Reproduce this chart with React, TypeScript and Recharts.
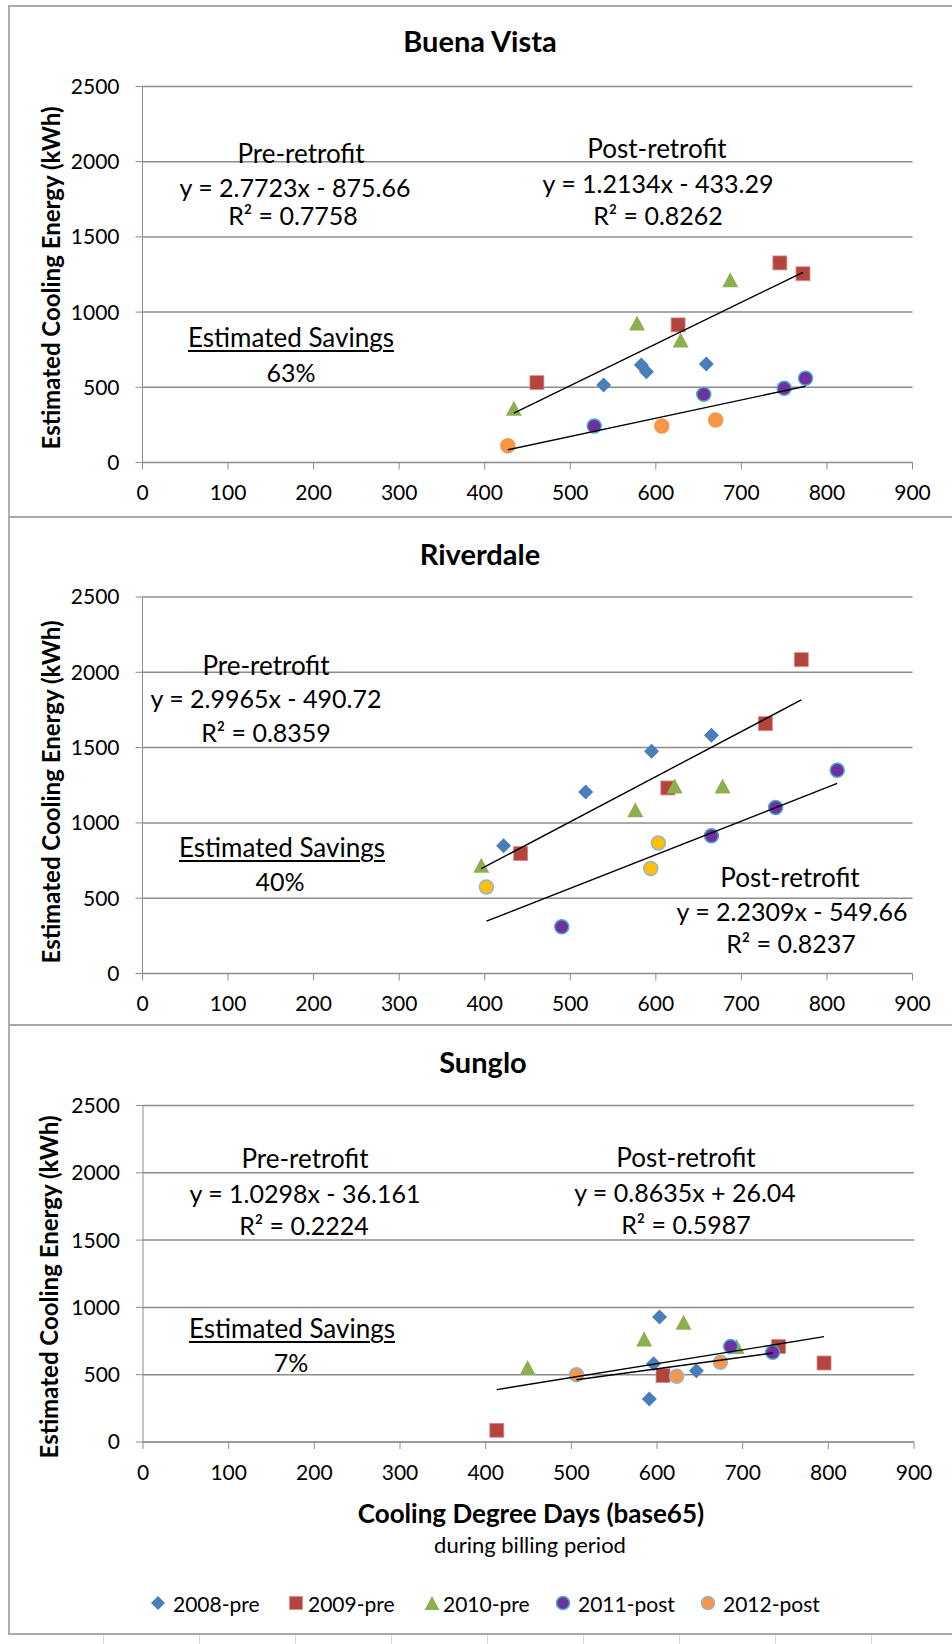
import React from "react";
import { CartesianGrid, Scatter, ScatterChart, XAxis, YAxis } from "recharts";

type Pt = { x: number; y: number };

const FONT = "Lato, 'Open Sans', sans-serif";
const X_TICKS = [0, 100, 200, 300, 400, 500, 600, 700, 800, 900];
const Y_TICKS = [0, 500, 1000, 1500, 2000, 2500];
const SERIES_NAMES = ["2008-pre", "2009-pre", "2010-pre", "2011-post", "2012-post"];

// Buena Vista (x = cooling degree days, y = kWh)
const bv2008: Pt[] = [{ x: 539, y: 515 }, { x: 583, y: 649 }, { x: 589, y: 604 }, { x: 659, y: 655 }];
const bv2009: Pt[] = [{ x: 461, y: 531 }, { x: 626, y: 915 }, { x: 745, y: 1327 }, { x: 772, y: 1255 }];
const bv2010: Pt[] = [{ x: 434, y: 360 }, { x: 578, y: 927 }, { x: 629, y: 815 }, { x: 687, y: 1215 }];
const bv2011: Pt[] = [{ x: 528, y: 242 }, { x: 656, y: 453 }, { x: 750, y: 493 }, { x: 775, y: 560 }];
const bv2012: Pt[] = [{ x: 427, y: 111 }, { x: 607, y: 242 }, { x: 670, y: 282 }];
const bvPreFit = [2.7723, -875.66, 0.7758];
const bvPostFit = [1.2134, -433.29, 0.8262];

// Riverdale
const rd2008: Pt[] = [{ x: 422, y: 849 }, { x: 518, y: 1206 }, { x: 595, y: 1475 }, { x: 665, y: 1582 }];
const rd2009: Pt[] = [{ x: 442, y: 796 }, { x: 614, y: 1232 }, { x: 728, y: 1659 }, { x: 770, y: 2084 }];
const rd2010: Pt[] = [{ x: 396, y: 719 }, { x: 576, y: 1088 }, { x: 622, y: 1245 }, { x: 678, y: 1245 }];
const rd2011: Pt[] = [{ x: 490, y: 310 }, { x: 665, y: 914 }, { x: 740, y: 1102 }, { x: 812, y: 1349 }];
const rd2012: Pt[] = [{ x: 402, y: 575 }, { x: 594, y: 697 }, { x: 603, y: 867 }];
const rdPreFit = [2.9965, -490.72, 0.8359];
const rdPostFit = [2.2309, -549.66, 0.8237];

// Sunglo
const sg2008: Pt[] = [{ x: 603, y: 928 }, { x: 591, y: 319 }, { x: 596, y: 582 }, { x: 646, y: 530 }];
const sg2009: Pt[] = [{ x: 413, y: 87 }, { x: 607, y: 493 }, { x: 742, y: 710 }, { x: 795, y: 587 }];
const sg2010: Pt[] = [{ x: 449, y: 554 }, { x: 585, y: 765 }, { x: 631, y: 889 }, { x: 693, y: 710 }];
const sg2011: Pt[] = [{ x: 686, y: 710 }, { x: 735, y: 666 }];
const sg2012: Pt[] = [{ x: 506, y: 500 }, { x: 623, y: 488 }, { x: 674, y: 592 }];
const sgPreFit = [1.0298, -36.161, 0.2224];
const sgPostFit = [0.8635, 26.04, 0.5987];

const SAVINGS = ["63%", "40%", "7%"];

const BLUE = "#4A7EBB";
const RED = "#B5443F";
const GREEN = "#8DB04F";
const PURPLE = "#7030A0";
const TEAL = "#4BACC6";
const ORANGE = "#F79646";
const GOLD = "#FFC000";
const GRID = "#8c8c8c";

const diamond = (fill: string, r = 7.5) => (p: any) => (
  <polygon
    points={`${p.cx},${p.cy - r} ${p.cx + r},${p.cy} ${p.cx},${p.cy + r} ${p.cx - r},${p.cy}`}
    fill={fill}
  />
);
const square = (fill: string, s = 14) => (p: any) => (
  <rect x={p.cx - s / 2} y={p.cy - s / 2} width={s} height={s} fill={fill} stroke="#d98f8c" strokeWidth={0.8} />
);
const triangle = (fill: string, w = 16, h = 15) => (p: any) => (
  <polygon
    points={`${p.cx},${p.cy - h / 2} ${p.cx + w / 2},${p.cy + h / 2} ${p.cx - w / 2},${p.cy + h / 2}`}
    fill={fill}
  />
);
const dot = (fill: string, stroke: string, r = 7) => (p: any) => (
  <circle cx={p.cx} cy={p.cy} r={r} fill={fill} stroke={stroke} strokeWidth={1.5} />
);
const noMark = () => <g />;

function fitLine(fit: number[], groups: Pt[][]): Pt[] {
  const xs = groups.flat().map((d) => d.x);
  const lo = Math.min(...xs);
  const hi = Math.max(...xs);
  return [
    { x: lo, y: fit[0] * lo + fit[1] },
    { x: hi, y: fit[0] * hi + fit[1] },
  ];
}

function eqText(fit: number[]) {
  const b = fit[1];
  return `y = ${fit[0]}x ${b < 0 ? "-" : "+"} ${Math.abs(b)}`;
}

function Txt(props: {
  x: number;
  y: number;
  size?: number;
  bold?: boolean;
  underline?: boolean;
  children: React.ReactNode;
}) {
  return (
    <div
      style={{
        position: "absolute",
        left: props.x,
        top: props.y,
        transform: "translate(-50%, -50%)",
        fontSize: props.size ?? 25,
        fontWeight: props.bold ? 700 : 400,
        lineHeight: 1,
        whiteSpace: "nowrap",
        textDecoration: props.underline ? "underline" : "none",
        textUnderlineOffset: 3,
      }}
    >
      {props.children}
    </div>
  );
}

type Box = { left: number; right: number; top: number; bottom: number };
type Anchor = [number, number];

interface PanelProps {
  title: string;
  titleAt: Anchor;
  panelTop: number;
  panelBottom: number;
  plot: Box;
  series: Pt[][];
  postFill: string;
  postStroke: string;
  preFit: number[];
  postFit: number[];
  savings: string;
  pre: [Anchor, Anchor, Anchor];
  post: [Anchor, Anchor, Anchor];
  sav: [Anchor, Anchor];
  yLabelAt: Anchor;
}

const XAXIS_H = 40;
const WORD = 26;
const EQ = 25;

function Panel(p: PanelProps) {
  const h = p.panelBottom - p.panelTop;
  const [s08, s09, s10, s11, s12] = p.series;
  const preLine = fitLine(p.preFit, [s08, s09, s10]);
  const postLine = fitLine(p.postFit, [s11, s12]);
  const axisProps = {
    stroke: GRID,
    tickSize: 7,
    tickMargin: 16,
    tick: { fill: "#000", fontSize: 21, fontFamily: FONT },
    interval: 0 as const,
  };
  return (
    <>
      <div style={{ position: "absolute", left: 0, top: p.panelTop }}>
        <ScatterChart
          width={952}
          height={h}
          margin={{
            top: p.plot.top - p.panelTop,
            right: 952 - p.plot.right,
            bottom: h - (p.plot.bottom - p.panelTop) - XAXIS_H,
            left: 0,
          }}
        >
          <CartesianGrid vertical={false} stroke={GRID} strokeWidth={1.5} />
          <XAxis
            type="number"
            dataKey="x"
            domain={[0, 900]}
            ticks={X_TICKS}
            height={XAXIS_H}
            {...axisProps}
          />
          <YAxis
            type="number"
            dataKey="y"
            domain={[0, 2500]}
            ticks={Y_TICKS}
            width={p.plot.left}
            {...axisProps}
          />
          <Scatter name={SERIES_NAMES[0]} data={s08} shape={diamond(BLUE)} isAnimationActive={false} />
          <Scatter name={SERIES_NAMES[1]} data={s09} shape={square(RED)} isAnimationActive={false} />
          <Scatter name={SERIES_NAMES[2]} data={s10} shape={triangle(GREEN)} isAnimationActive={false} />
          <Scatter name={SERIES_NAMES[3]} data={s11} shape={dot(PURPLE, TEAL)} isAnimationActive={false} />
          <Scatter name={SERIES_NAMES[4]} data={s12} shape={dot(p.postFill, p.postStroke)} isAnimationActive={false} />
          <Scatter
            data={preLine}
            shape={noMark}
            line={{ stroke: "#000", strokeWidth: 1.4 }}
            isAnimationActive={false}
          />
          <Scatter
            data={postLine}
            shape={noMark}
            line={{ stroke: "#000", strokeWidth: 1.4 }}
            isAnimationActive={false}
          />
        </ScatterChart>
      </div>
      <Txt x={p.titleAt[0]} y={p.titleAt[1]} size={29} bold>
        {p.title}
      </Txt>
      <div
        style={{
          position: "absolute",
          left: p.yLabelAt[0],
          top: p.yLabelAt[1],
          transform: "translate(-50%, -50%) rotate(-90deg)",
          fontSize: 24,
          fontWeight: 700,
          lineHeight: 1,
          whiteSpace: "nowrap",
        }}
      >
        Estimated Cooling Energy (kWh)
      </div>
      <Txt x={p.pre[0][0]} y={p.pre[0][1]} size={WORD}>Pre-retrofit</Txt>
      <Txt x={p.pre[1][0]} y={p.pre[1][1]} size={EQ}>{eqText(p.preFit)}</Txt>
      <Txt x={p.pre[2][0]} y={p.pre[2][1]} size={EQ}>R² = {p.preFit[2]}</Txt>
      <Txt x={p.post[0][0]} y={p.post[0][1]} size={WORD}>Post-retrofit</Txt>
      <Txt x={p.post[1][0]} y={p.post[1][1]} size={EQ}>{eqText(p.postFit)}</Txt>
      <Txt x={p.post[2][0]} y={p.post[2][1]} size={EQ}>R² = {p.postFit[2]}</Txt>
      <Txt x={p.sav[0][0]} y={p.sav[0][1]} size={WORD} underline>
        Estimated Savings
      </Txt>
      <Txt x={p.sav[1][0]} y={p.sav[1][1]} size={EQ}>{p.savings}</Txt>
    </>
  );
}

function LegendIcon({ i }: { i: number }) {
  const c = { cx: 8, cy: 8 };
  const shapes = [
    diamond(BLUE, 7),
    square(RED, 13),
    triangle(GREEN, 15, 14),
    dot(PURPLE, TEAL, 6.5),
    dot(ORANGE, "#95B3D7", 6.5),
  ];
  return (
    <svg width={16} height={16} style={{ display: "block" }}>
      {shapes[i](c)}
    </svg>
  );
}

const LEGEND_ICON_X = [158, 296, 432, 563, 708];
const LEGEND_TEXT_X = [173, 308, 443, 578, 723];

export default function App() {
  return (
    <div
      style={{
        position: "relative",
        width: 952,
        height: 1644,
        background: "#fff",
        fontFamily: FONT,
        color: "#000",
        overflow: "hidden",
      }}
    >
      <style>{"body{margin:0}"}</style>
      {/* worksheet cell lines under the chart */}
      {[103, 199, 295, 391, 487, 583, 679, 775, 871].map((x) => (
        <div key={x} style={{ position: "absolute", left: x, top: 1634, width: 1, height: 10, background: "#d4d4d4" }} />
      ))}
      {/* panel frame */}
      <div style={{ position: "absolute", left: 8, top: 6, width: 2, height: 1629, background: "#b0b0b0" }} />
      {[6, 517, 1025, 1634].map((y) => (
        <div key={y} style={{ position: "absolute", left: 8, top: y - 1, width: 944, height: 2, background: "#a8a8a8" }} />
      ))}

      <Panel
        title="Buena Vista"
        titleAt={[480, 40]}
        panelTop={6}
        panelBottom={517}
        plot={{ left: 142.5, right: 912.5, top: 86.5, bottom: 462.5 }}
        series={[bv2008, bv2009, bv2010, bv2011, bv2012]}
        postFill={ORANGE}
        postStroke={ORANGE}
        preFit={bvPreFit}
        postFit={bvPostFit}
        savings={SAVINGS[0]}
        pre={[[301, 153], [295, 187], [293, 215]]}
        post={[[657, 148], [658, 183], [658, 215]]}
        sav={[[291, 337], [291, 372]]}
        yLabelAt={[51, 278]}
      />
      <Panel
        title="Riverdale"
        titleAt={[480, 553]}
        panelTop={517}
        panelBottom={1025}
        plot={{ left: 142.5, right: 912.5, top: 597, bottom: 973.5 }}
        series={[rd2008, rd2009, rd2010, rd2011, rd2012]}
        postFill={GOLD}
        postStroke="#95B3D7"
        preFit={rdPreFit}
        postFit={rdPostFit}
        savings={SAVINGS[1]}
        pre={[[266, 665], [266, 698], [266, 732]]}
        post={[[790, 877], [792, 911], [791, 943]]}
        sav={[[282, 847], [280, 881]]}
        yLabelAt={[51, 792]}
      />
      <Panel
        title="Sunglo"
        titleAt={[483, 1061]}
        panelTop={1025}
        panelBottom={1634}
        plot={{ left: 143, right: 914, top: 1105.5, bottom: 1442 }}
        series={[sg2008, sg2009, sg2010, sg2011, sg2012]}
        postFill={ORANGE}
        postStroke="#95B3D7"
        preFit={sgPreFit}
        postFit={sgPostFit}
        savings={SAVINGS[2]}
        pre={[[305, 1158], [305, 1193], [304, 1225]]}
        post={[[686, 1157], [685, 1192], [686, 1224]]}
        sav={[[292, 1328], [291, 1362]]}
        yLabelAt={[49, 1287]}
      />

      <Txt x={531} y={1513} size={26} bold>
        Cooling Degree Days (base65)
      </Txt>
      <Txt x={530} y={1545} size={22}>
        during billing period
      </Txt>

      {SERIES_NAMES.map((name, i) => (
        <React.Fragment key={name}>
          <div style={{ position: "absolute", left: LEGEND_ICON_X[i] - 8, top: 1603 - 8 }}>
            <LegendIcon i={i} />
          </div>
          <Txt x={LEGEND_TEXT_X[i]} y={1603} size={21}>
            <span style={{ display: "inline-block", transform: "translateX(50%)" }}>{name}</span>
          </Txt>
        </React.Fragment>
      ))}
    </div>
  );
}
